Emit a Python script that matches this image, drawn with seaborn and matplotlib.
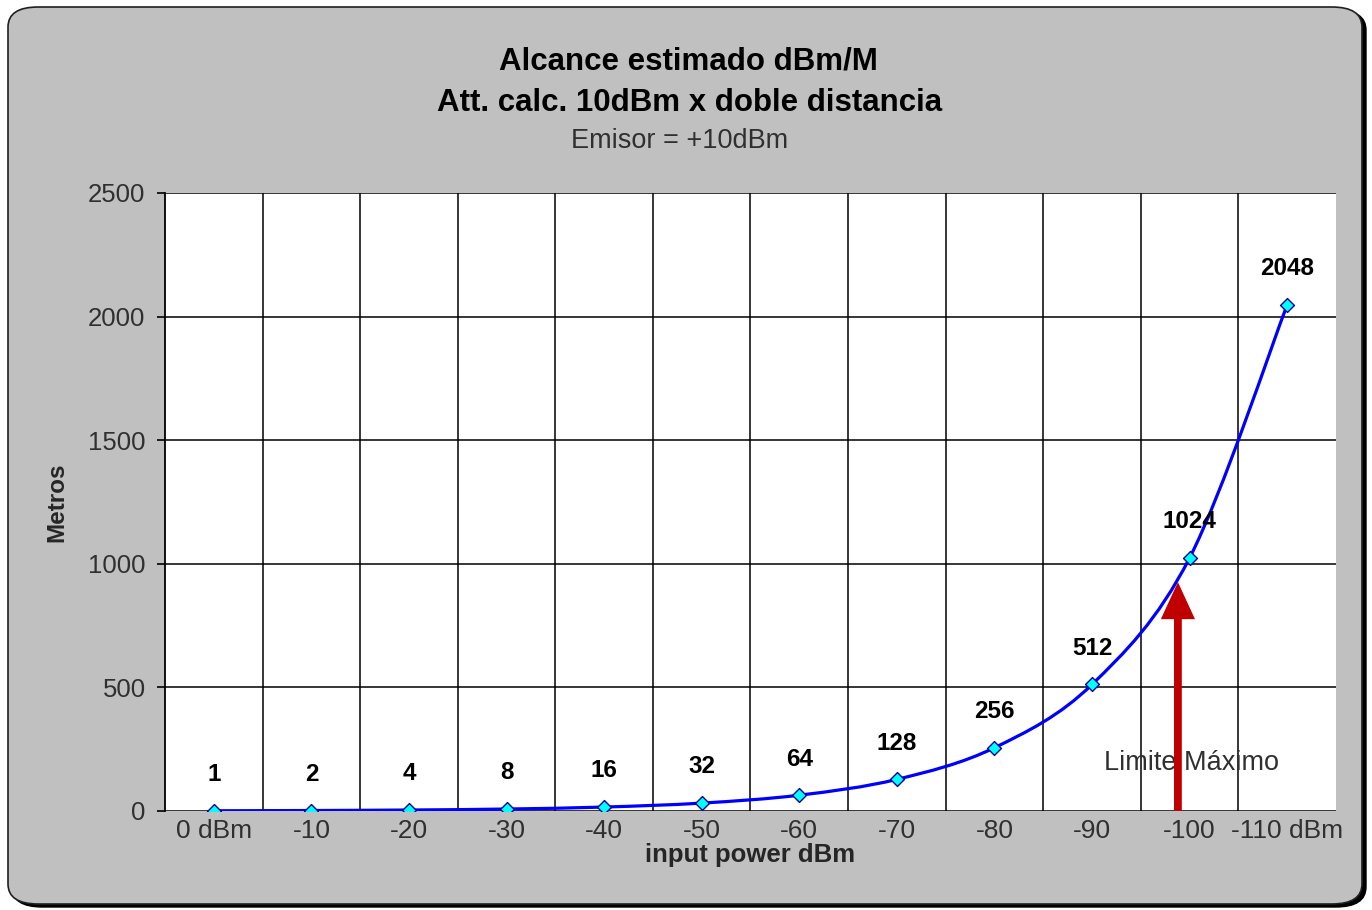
import numpy as np
import pandas as pd
import seaborn as sns
import matplotlib.pyplot as plt
from matplotlib.path import Path
from matplotlib.patches import PathPatch, FancyBboxPatch, FancyArrow

sns.set_style("white")
plt.rcParams["font.family"] = ["Liberation Sans", "DejaVu Sans"]

# data
categories = ["0 dBm", "-10", "-20", "-30", "-40", "-50", "-60", "-70",
              "-80", "-90", "-100", "-110 dBm"]
metros = [1, 2, 4, 8, 16, 32, 64, 128, 256, 512, 1024, 2048]
y_ticks = [0, 500, 1000, 1500, 2000, 2500]
limit_x = 9.88      # position of the red arrow (category units)
limit_top = 926     # arrow tip, metres

df = pd.DataFrame({"pos": range(len(categories)), "metros": metros})

fig = plt.figure(figsize=(13.72, 9.10), dpi=100)
fig.patch.set_facecolor("white")

# grey rounded background with dark shadow
W, H = 1372, 910
shadow = FancyBboxPatch((12 / W, 3 / H), 1354 / W, 897 / H,
                        boxstyle="round,pad=0,rounding_size=0.022",
                        transform=fig.transFigure, facecolor="black",
                        edgecolor="black", zorder=0)
box = FancyBboxPatch((8 / W, 6 / H), 1354 / W, 897 / H,
                     boxstyle="round,pad=0,rounding_size=0.022",
                     transform=fig.transFigure, facecolor="#C0C0C0",
                     edgecolor="#202020", lw=1.2, zorder=1)
fig.patches.extend([shadow, box])

ax = fig.add_axes([165 / W, 1 - 811 / H, (1336 - 165) / W, (811 - 193) / H])
ax.set_facecolor("white")
ax.set_zorder(2)

# smoothed line (Bezier through the points, like the spreadsheet "smooth line")
xs = df["pos"].to_numpy(dtype=float)
ys = df["metros"].to_numpy(dtype=float)
verts = [(xs[0], ys[0])]
codes = [Path.MOVETO]
n = len(xs)
for i in range(n - 1):
    p0 = (xs[max(i - 1, 0)], ys[max(i - 1, 0)])
    p1 = (xs[i], ys[i])
    p2 = (xs[i + 1], ys[i + 1])
    p3 = (xs[min(i + 2, n - 1)], ys[min(i + 2, n - 1)])
    c1 = (p1[0] + (p2[0] - p0[0]) / 6, p1[1] + (p2[1] - p0[1]) / 6)
    c2 = (p2[0] - (p3[0] - p1[0]) / 6, p2[1] - (p3[1] - p1[1]) / 6)
    verts += [c1, c2, p2]
    codes += [Path.CURVE4] * 3
ax.add_patch(PathPatch(Path(verts, codes), facecolor="none",
                       edgecolor="#0000FF", lw=2.3, zorder=4))

sns.scatterplot(data=df, x="pos", y="metros", marker="D", s=50,
                color="#00FFFF", edgecolor="#0000A0", linewidth=1,
                zorder=5, ax=ax, legend=False)

for x, v in zip(xs, metros):
    ax.annotate(str(v), (x, v), xytext=(0, 26), textcoords="offset points",
                ha="center", va="center", fontsize=17.5, fontweight="bold",
                color="black", zorder=6)

# limit arrow
ax.add_patch(FancyArrow(limit_x, 0, 0, limit_top, width=0.08,
                        head_width=0.35, head_length=150,
                        length_includes_head=True, color="#C00000",
                        lw=0, zorder=7))
ax.text(10.02, 195, "Limite Máximo", ha="center", va="center",
        fontsize=19.5, color="#303030", zorder=3)

ax.set_xlim(-0.5, len(categories) - 0.5)
ax.set_ylim(0, 2500)
ax.set_yticks(y_ticks)
ax.set_xticks(range(len(categories)))
ax.set_xticklabels(categories)
ax.set_xticks(np.arange(0.5, len(categories) - 1, 1.0), minor=True)
ax.grid(False)
ax.yaxis.grid(True, color="black", lw=1.1)
ax.xaxis.grid(True, which="minor", color="black", lw=1.1)
ax.set_axisbelow(True)

for s in ["top", "right", "bottom"]:
    ax.spines[s].set_visible(False)
ax.spines["left"].set_color("black")
ax.spines["left"].set_linewidth(1.3)

ax.tick_params(axis="y", which="major", left=True, length=6, width=1.2,
               color="black", labelsize=18.5, labelcolor="#303030", pad=8)
ax.tick_params(axis="x", which="both", bottom=False, length=0,
               labelsize=19, labelcolor="#303030", pad=6)

ax.set_xlabel("input power dBm", fontsize=18.5, fontweight="bold", labelpad=0)
ax.set_ylabel("Metros", fontsize=17.5, fontweight="bold", labelpad=14)

fig.text(688 / W, 1 - 61 / H, "Alcance estimado dBm/M", ha="center",
         va="center", fontsize=22.5, fontweight="bold", color="black")
fig.text(690 / W, 1 - 103 / H, "Att. calc. 10dBm x doble distancia",
         ha="center", va="center", fontsize=22.5, fontweight="bold",
         color="black")
fig.text(680 / W, 1 - 141 / H, "Emisor = +10dBm", ha="center", va="center",
         fontsize=19.5, color="#303030")

fig.savefig("out.png", dpi=100)
